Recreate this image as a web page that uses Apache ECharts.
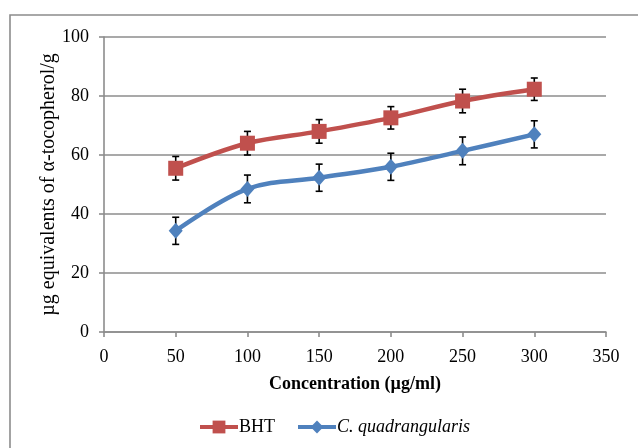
<!DOCTYPE html>
<html>
<head>
<meta charset="utf-8">
<script src="https://cdn.jsdelivr.net/npm/echarts@6/dist/echarts.min.js"></script>
<style>
  html, body { margin: 0; padding: 0; background: #fff; }
  #chart { width: 638px; height: 448px; }
</style>
</head>
<body>
<div id="chart"></div>
<script>
// Concentrations (µg/ml) and measured antioxidant capacity (µg α-tocopherol eq./g)
const concentrations = [50, 100, 150, 200, 250, 300];
const bhtValues = [55.5, 64, 68, 72.6, 78.3, 82.3];
const bhtErrors = [4, 4, 4, 3.8, 4, 3.8];
const cqValues = [34.3, 48.5, 52.3, 56, 61.4, 67];
const cqErrors = [4.6, 4.7, 4.6, 4.6, 4.7, 4.6];
const xTicks = [0, 50, 100, 150, 200, 250, 300, 350];
const yTicks = [0, 20, 40, 60, 80, 100];

const SERIF = 'Liberation Serif';
const RED = '#C0504D';
const BLUE = '#4F81BD';
const GRID = '#8C8C8C';

function pairs(vals) {
  return concentrations.map((c, i) => [c, vals[i]]);
}
function errorRows(vals, errs) {
  return concentrations.map((c, i) => [c, vals[i] - errs[i], vals[i] + errs[i]]);
}

// Vertical error bar with small caps
function renderErrorBar(params, api) {
  const x = api.value(0);
  const lo = api.coord([x, api.value(1)]);
  const hi = api.coord([x, api.value(2)]);
  const half = 3.5;
  const style = { stroke: '#000', lineWidth: 1.6 };
  return {
    type: 'group',
    children: [
      { type: 'line', shape: { x1: hi[0], y1: hi[1], x2: lo[0], y2: lo[1] }, style },
      { type: 'line', shape: { x1: hi[0] - half, y1: hi[1], x2: hi[0] + half, y2: hi[1] }, style },
      { type: 'line', shape: { x1: lo[0] - half, y1: lo[1], x2: lo[0] + half, y2: lo[1] }, style }
    ]
  };
}

const chart = echarts.init(document.getElementById('chart'), null, { renderer: 'canvas' });

chart.setOption({
  animation: false,
  backgroundColor: '#fff',
  textStyle: { fontFamily: SERIF, color: '#000' },
  graphic: [{
    type: 'rect',
    shape: { x: 10, y: 15, width: 700, height: 500 },
    style: { fill: 'none', stroke: '#8C8C8C', lineWidth: 1.6 },
    silent: true
  }],
  grid: { left: 104, right: 32, top: 37, bottom: 116 },
  xAxis: {
    type: 'value',
    min: xTicks[0],
    max: xTicks[xTicks.length - 1],
    interval: 50,
    name: 'Concentration (µg/ml)',
    nameLocation: 'middle',
    nameGap: 43,
    nameMoveOverlap: false,
    nameTextStyle: { fontFamily: SERIF, fontSize: 18, fontWeight: 'bold', color: '#000' },
    axisLine: { show: true, lineStyle: { color: GRID, width: 1.6 } },
    axisTick: { show: true, inside: false, length: 5, lineStyle: { color: GRID, width: 1.6 } },
    axisLabel: { fontFamily: SERIF, fontSize: 18, color: '#000', margin: 16 },
    splitLine: { show: false }
  },
  yAxis: {
    type: 'value',
    min: yTicks[0],
    max: yTicks[yTicks.length - 1],
    interval: 20,
    name: 'µg equivalents of α-tocopherol/g',
    nameLocation: 'middle',
    nameGap: 45,
    nameMoveOverlap: false,
    nameTextStyle: { fontFamily: SERIF, fontSize: 20, color: '#000' },
    axisLine: { show: true, lineStyle: { color: GRID, width: 1.6 } },
    axisTick: { show: true, length: 5, lineStyle: { color: GRID, width: 1.6 } },
    axisLabel: { fontFamily: SERIF, fontSize: 18, color: '#000', margin: 15 },
    splitLine: { show: true, lineStyle: { color: GRID, width: 1.6 } }
  },
  legend: {
    left: 193,
    top: 413,
    itemWidth: 38,
    itemHeight: 16,
    itemGap: 21,
    lineStyle: { width: 4 },
    data: ['BHT', 'C. quadrangularis'],
    formatter: name => name === 'BHT' ? '{n|BHT}' : '{i|C. quadrangularis}',
    textStyle: {
      fontFamily: SERIF,
      fontSize: 18,
      color: '#000',
      padding: [0, 0, 0, -4],
      rich: {
        n: { fontFamily: SERIF, fontSize: 18, color: '#000' },
        i: { fontFamily: SERIF, fontSize: 18, fontStyle: 'italic', color: '#000' }
      }
    }
  },
  series: [
    {
      name: 'BHT',
      type: 'line',
      data: pairs(bhtValues),
      smooth: 0.35,
      symbol: 'rect',
      symbolSize: 15,
      lineStyle: { color: RED, width: 4.5 },
      itemStyle: { color: RED },
      z: 3
    },
    {
      name: 'C. quadrangularis',
      type: 'line',
      data: pairs(cqValues),
      smooth: 0.35,
      symbol: 'diamond',
      symbolSize: [14, 16],
      lineStyle: { color: BLUE, width: 4.5 },
      itemStyle: { color: BLUE },
      z: 3
    },
    {
      name: 'BHT error',
      type: 'custom',
      renderItem: renderErrorBar,
      data: errorRows(bhtValues, bhtErrors),
      encode: { x: 0, y: [1, 2] },
      z: 2,
      silent: true
    },
    {
      name: 'CQ error',
      type: 'custom',
      renderItem: renderErrorBar,
      data: errorRows(cqValues, cqErrors),
      encode: { x: 0, y: [1, 2] },
      z: 2,
      silent: true
    }
  ]
});
</script>
</body>
</html>
